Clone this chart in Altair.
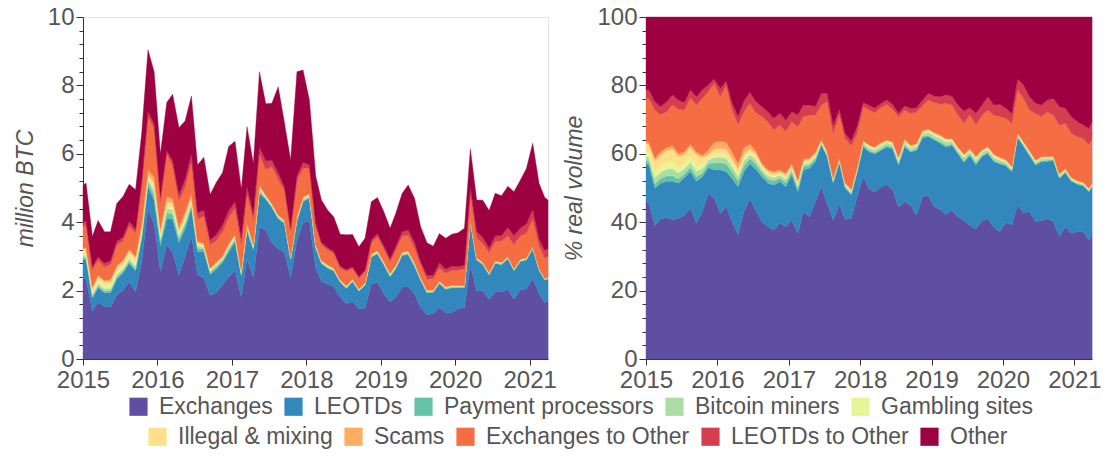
import altair as alt
import pandas as pd

categories = ["Exchanges", "LEOTDs", "Payment processors", "Bitcoin miners", "Gambling sites",
              "Illegal & mixing", "Scams", "Exchanges to Other", "LEOTDs to Other", "Other"]
colors = ["#5e4fa2", "#3288bd", "#66c2a5", "#abdda4", "#e6f598",
          "#fee08b", "#fdae61", "#f46d43", "#d53e4f", "#9e0142"]

# observation dates: the plot edge (2015-01-01), mid-month points, the plot edge (2021-04-01)
months = ["2015-01-01"] + [f"{y}-{m:02d}-16" for y in range(2015, 2022) for m in range(1, 13)
                           if (y, m) <= (2021, 3)] + ["2021-04-01"]

# total volume, million BTC
total_btc = [5.09,
    5.14, 3.58, 4.05, 3.72, 3.72, 4.55, 4.75, 5.11, 4.95, 6.6, 9.04, 8.4,
    6.0, 7.5, 7.74, 6.76, 6.96, 7.69, 5.67, 5.9, 4.81, 5.16, 5.45, 6.21,
    6.37, 4.96, 6.79, 5.72, 8.4, 7.46, 7.48, 7.96, 6.89, 5.82, 8.4, 8.45,
    7.57, 5.35, 4.65, 4.35, 4.15, 3.65, 3.63, 3.64, 3.28, 3.53, 4.6, 4.72,
    4.31, 3.82, 4.26, 4.84, 5.09, 4.70, 3.87, 3.40, 3.30, 3.67, 3.53, 3.65,
    3.69, 3.82, 6.15, 4.65, 4.64, 4.34, 4.85, 4.77, 5.05, 4.89, 5.23, 5.57,
    6.31, 5.14, 4.72,
    4.65]

# shares of real volume, %
exchanges = [46.0,
    45.5, 39.0, 40.9, 41.4, 40.7, 41.1, 42.1, 44.1, 39.7, 43.1, 48.4, 47.0,
    42.6, 44.5, 40.2, 36.3, 43.1, 46.8, 43.3, 40.1, 38.7, 37.7, 39.7, 38.7,
    40.6, 36.7, 43.1, 41.6, 46.0, 50.4, 45.5, 40.5, 45.3, 40.8, 41.1, 47.2,
    53.3, 49.6, 48.9, 50.2, 51.0, 49.5, 44.5, 46.0, 45.0, 42.0, 47.5, 47.7,
    44.5, 43.6, 42.3, 43.5, 41.5, 40.5, 39.0, 38.0, 40.5, 41.0, 38.5, 37.2,
    40.0, 39.2, 45.0, 42.6, 43.1, 40.2, 40.4, 41.1, 40.2, 35.8, 38.7, 36.8,
    37.2, 37.2, 34.8,
    36.3]
leotds = [11.0,
    11.2, 10.9, 10.5, 10.6, 11.3, 10.3, 10.9, 10.7, 12.3, 10.2, 7.5, 8.3,
    12.7, 10.3, 12.6, 14.1, 11.7, 10.4, 12.2, 13.2, 12.7, 13.2, 12.2, 11.7,
    13.2, 12.2, 12.2, 14.2, 11.7, 12.2, 13.7, 11.0, 12.2, 9.2, 6.9, 7.3,
    8.8, 11.0, 11.1, 10.8, 11.0, 12.0, 12.2, 16.1, 15.5, 19.0, 17.3, 17.3,
    19.5, 19.4, 19.7, 19.0, 18.5, 17.0, 20.5, 18.8, 18.7, 19.1, 19.2, 19.8,
    16.5, 15.6, 19.8, 19.5, 16.4, 16.5, 17.3, 16.7, 17.8, 17.0, 15.8, 15.2,
    13.9, 13.4, 14.1,
    14.0]
payment_processors = [1.0,
    1.0, 1.3, 1.4, 1.5, 1.6, 1.3, 1.1, 1.2, 1.3, 1.0, 1.3, 2.0,
    2.1, 2.2, 2.0, 1.7, 1.8, 1.4, 1.6, 1.2, 1.2, 1.2, 1.0, 1.2,
    1.0, 1.0, 1.0, 0.9, 0.8, 0.3, 0.3, 0.3, 0.3, 0.3, 0.3, 0.3,
    0.4, 0.4, 0.4, 0.4, 0.4, 0.4, 0.5, 0.4, 0.4, 0.4, 0.4, 0.4,
    0.4, 0.5, 0.5, 0.4, 0.4, 0.5, 0.4, 0.5, 0.4, 0.4, 0.4, 0.4,
    0.4, 0.3, 0.3, 0.3, 0.3, 0.3, 0.3, 0.3, 0.3, 0.3, 0.2, 0.2,
    0.2, 0.2, 0.2,
    0.2]
bitcoin_miners = [1.3,
    1.3, 1.8, 1.8, 2.0, 2.1, 1.7, 1.5, 1.6, 1.7, 1.3, 1.0, 1.6,
    1.7, 1.7, 1.6, 1.4, 1.4, 1.1, 1.3, 1.0, 1.0, 1.0, 0.9, 1.0,
    0.9, 0.9, 0.8, 0.7, 0.7, 0.6, 0.6, 0.6, 0.5, 0.6, 0.6, 0.6,
    0.7, 0.8, 0.8, 0.9, 0.8, 0.8, 0.9, 0.9, 0.8, 0.8, 0.8, 0.9,
    0.9, 1.0, 1.0, 0.8, 0.8, 1.0, 0.8, 1.0, 0.8, 0.8, 0.9, 0.8,
    0.7, 0.6, 0.5, 0.6, 0.6, 0.6, 0.6, 0.6, 0.5, 0.5, 0.5, 0.4,
    0.4, 0.4, 0.4,
    0.4]
gambling_sites = [1.3,
    1.3, 1.8, 1.8, 2.0, 2.1, 1.7, 1.5, 1.6, 1.7, 1.3, 0.5, 0.8,
    0.8, 0.9, 0.8, 0.7, 0.7, 0.6, 0.5, 0.4, 0.4, 0.4, 0.3, 0.4,
    0.3, 0.3, 0.3, 0.3, 0.3, 0.3, 0.2, 0.2, 0.2, 0.2, 0.3, 0.2,
    0.3, 0.3, 0.3, 0.3, 0.3, 0.3, 0.3, 0.3, 0.3, 0.3, 0.3, 0.3,
    0.3, 0.4, 0.4, 0.3, 0.3, 0.4, 0.3, 0.4, 0.3, 0.3, 0.3, 0.3,
    0.3, 0.2, 0.2, 0.2, 0.2, 0.2, 0.2, 0.2, 0.2, 0.2, 0.2, 0.2,
    0.2, 0.2, 0.2,
    0.2]
illegal_mixing = [2.4,
    2.4, 3.1, 3.2, 3.4, 3.6, 3.1, 2.7, 2.8, 3.0, 2.2, 1.1, 1.6,
    1.7, 1.7, 1.6, 1.4, 1.4, 1.1, 1.1, 0.8, 0.8, 0.8, 0.7, 0.8,
    0.7, 0.7, 0.6, 0.6, 0.5, 0.2, 0.2, 0.2, 0.2, 0.2, 0.2, 0.2,
    0.3, 0.3, 0.3, 0.4, 0.3, 0.3, 0.4, 0.4, 0.3, 0.3, 0.3, 0.4,
    0.4, 0.4, 0.3, 0.3, 0.3, 0.3, 0.3, 0.3, 0.3, 0.3, 0.4, 0.3,
    0.3, 0.2, 0.2, 0.2, 0.2, 0.2, 0.2, 0.2, 0.2, 0.2, 0.2, 0.2,
    0.1, 0.1, 0.1,
    0.1]
scams = [0.7,
    0.7, 0.8, 1.0, 0.9, 1.0, 0.9, 0.8, 0.8, 0.9, 0.5, 1.3, 2.1,
    2.1, 2.1, 1.8, 1.6, 1.7, 1.4, 0.8, 0.6, 0.5, 0.5, 0.5, 0.5,
    0.5, 0.5, 0.5, 0.4, 0.4, 0.2, 0.2, 0.1, 0.1, 0.2, 0.2, 0.2,
    0.1, 0.2, 0.2, 0.2, 0.2, 0.2, 0.2, 0.2, 0.2, 0.2, 0.2, 0.2,
    0.2, 0.2, 0.2, 0.2, 0.2, 0.2, 0.2, 0.2, 0.2, 0.2, 0.2, 0.2,
    0.1, 0.2, 0.1, 0.1, 0.2, 0.2, 0.2, 0.1, 0.1, 0.1, 0.1, 0.1,
    0.1, 0.1, 0.1,
    0.1]
exchanges_to_other = [12.5,
    12.8, 14.1, 10.9, 10.5, 11.9, 13.0, 12.2, 13.6, 13.7, 16.6, 17.1, 17.2,
    13.0, 16.7, 12.2, 11.4, 10.5, 12.0, 11.2, 13.6, 14.1, 12.2, 13.1, 12.2,
    12.2, 15.6, 12.4, 12.6, 10.9, 10.1, 14.6, 13.1, 12.7, 13.0, 12.8, 10.0,
    9.9, 10.2, 10.0, 10.3, 10.5, 9.5, 11.9, 8.5, 9.3, 9.3, 7.2, 8.5,
    8.8, 9.0, 10.4, 9.8, 9.3, 9.1, 10.0, 9.3, 10.1, 10.7, 11.4, 11.9,
    12.1, 12.6, 12.6, 12.7, 11.8, 13.6, 11.7, 13.1, 12.0, 14.3, 13.2, 12.9,
    12.9, 12.9, 12.7,
    13.2]
leotds_to_other = [2.5,
    2.5, 2.4, 2.3, 2.9, 2.9, 2.6, 2.2, 2.3, 2.4, 2.5, 1.9, 1.3,
    2.5, 1.1, 2.2, 2.4, 3.2, 3.2, 3.3, 2.9, 2.9, 3.4, 3.5, 3.4,
    2.9, 3.5, 3.4, 3.0, 2.5, 3.4, 2.4, 2.4, 1.5, 1.5, 1.4, 2.0,
    1.2, 1.4, 1.4, 1.2, 1.2, 1.5, 1.0, 1.2, 1.5, 1.2, 1.7, 2.0,
    1.9, 2.2, 2.5, 2.5, 3.0, 3.5, 2.0, 3.4, 3.0, 3.9, 3.0, 3.6,
    2.9, 2.9, 3.2, 3.9, 3.9, 3.0, 3.4, 3.4, 4.9, 5.4, 4.4, 4.9,
    4.4, 3.9, 4.8,
    4.9]
other = [21.3,
    21.3, 24.8, 26.2, 24.8, 22.8, 24.3, 25.0, 21.3, 23.3, 21.3, 19.9, 18.1,
    20.8, 18.8, 25.0, 29.0, 24.5, 22.0, 24.7, 26.2, 27.7, 29.6, 28.1, 30.1,
    27.7, 28.6, 25.7, 25.7, 26.2, 22.3, 22.3, 31.6, 27.0, 34.0, 36.2, 32.0,
    25.0, 25.8, 26.6, 25.3, 24.3, 25.5, 28.1, 26.0, 26.7, 26.5, 24.3, 22.3,
    23.1, 23.3, 22.7, 23.2, 25.7, 27.5, 26.5, 28.1, 25.7, 23.3, 25.7, 25.5,
    26.7, 28.2, 18.1, 19.9, 23.3, 25.2, 25.7, 24.3, 23.8, 26.2, 26.7, 29.1,
    30.6, 31.6, 32.6,
    30.6]

series = [exchanges, leotds, payment_processors, bitcoin_miners, gambling_sites,
          illegal_mixing, scams, exchanges_to_other, leotds_to_other, other]

rows = []
for i, d in enumerate(months):
    for j, cat in enumerate(categories):
        rows.append({"date": d, "cat": cat, "idx": j, "share": series[j][i], "total": total_btc[i]})
df = pd.DataFrame(rows)

FONT = "Liberation Sans"
LABEL = "#555555"
AXC = "#333333"
TICKFS = 24
TEXTFS = 23

x_dom = [alt.DateTime(year=2015, month=1, date=1, utc=True),
         alt.DateTime(year=2021, month=4, date=1, utc=True)]
x_ticks = [alt.DateTime(year=y, month=1, date=1, utc=True) for y in range(2015, 2022)]

x_enc = alt.X("date:T", scale=alt.Scale(type="utc", domain=x_dom),
              axis=alt.Axis(values=x_ticks, format="%Y", title=None, labelFontSize=TICKFS,
                            labelColor=LABEL, tickColor=AXC, domainColor=AXC, tickSize=6,
                            labelPadding=3, grid=False, labelFlush=False))

legend_common = dict(title=None, orient="none", direction="horizontal", labelFontSize=TEXTFS,
                     labelColor=LABEL, symbolType="square", symbolSize=330,
                     symbolStrokeWidth=0, columnPadding=9, labelOffset=9, labelLimit=400)

color_enc = alt.Color("cat:N", scale=alt.Scale(domain=categories[:5], range=colors[:5]),
                      legend=alt.Legend(legendX=44, legendY=378, **legend_common))
fill_enc = alt.Fill("cat:N", scale=alt.Scale(domain=categories[5:], range=colors[5:]),
                    legend=alt.Legend(legendX=63, legendY=408, **legend_common))
stroke_enc = alt.Stroke("cat:N", scale=alt.Scale(domain=categories, range=colors), legend=None)


def panel(field, domain, major, minor, title, width):
    base = alt.Chart(df).transform_joinaggregate(
        tot="sum(share)", groupby=["date"]
    ).transform_calculate(
        pct="100*datum.share/datum.tot",
        btc="datum.total*datum.share/datum.tot",
    ).transform_window(
        cum="sum(" + field + ")", frame=[None, 0], sort=[alt.SortField("idx")], groupby=["date"]
    ).transform_calculate(
        lo="datum.cum - datum." + field
    )
    yscale = alt.Scale(domain=domain, nice=False)
    major_axis = alt.Axis(values=major, title=title, orient="left", labelFontSize=TICKFS,
                          labelColor=LABEL, tickColor=AXC, domainColor=AXC, tickSize=7,
                          labelPadding=2, grid=False, titleFontSize=TEXTFS,
                          titleFontWeight="normal", titleFontStyle="italic",
                          titleColor=LABEL, titlePadding=10)
    lower = base.transform_filter("datum.idx < 5").mark_area(strokeWidth=0.4).encode(
        x=x_enc,
        y=alt.Y("lo:Q", scale=yscale, axis=major_axis),
        y2="cum:Q",
        color=color_enc,
        stroke=stroke_enc,
    )
    upper = base.transform_filter("datum.idx >= 5").mark_area(strokeWidth=0.4).encode(
        x=x_enc,
        y=alt.Y("lo:Q", scale=yscale, axis=major_axis),
        y2="cum:Q",
        fill=fill_enc,
        stroke=stroke_enc,
    )
    minor_layer = base.transform_filter("datum.idx == 9").mark_area(opacity=0).encode(
        x=x_enc,
        y=alt.Y("cum:Q", scale=yscale,
                axis=alt.Axis(values=minor, title=None, orient="left", labels=False,
                              domain=False, tickColor=AXC, tickSize=4, grid=False)),
    )
    return alt.layer(alt.layer(lower, upper), minor_layer).resolve_axis(
        y="independent").properties(width=width, height=342)


left_minor = [round(v * 0.4, 1) for v in range(26) if v % 5 != 0]
right_minor = [v * 4 for v in range(26) if v % 5 != 0]

left = panel("btc", [0, 10], [0, 2, 4, 6, 8, 10], left_minor, "million BTC", 465)
right = panel("pct", [0, 100], [0, 20, 40, 60, 80, 100], right_minor, "% real volume", 446)

chart = alt.hconcat(left, right, spacing=6).properties(
    padding={"left": 5, "top": -4, "right": 0, "bottom": 0}
).configure(
    font=FONT
).configure_view(
    stroke="#e3e3e3"
)

chart.save("out.html", embed_options={"renderer": "svg", "actions": False})
